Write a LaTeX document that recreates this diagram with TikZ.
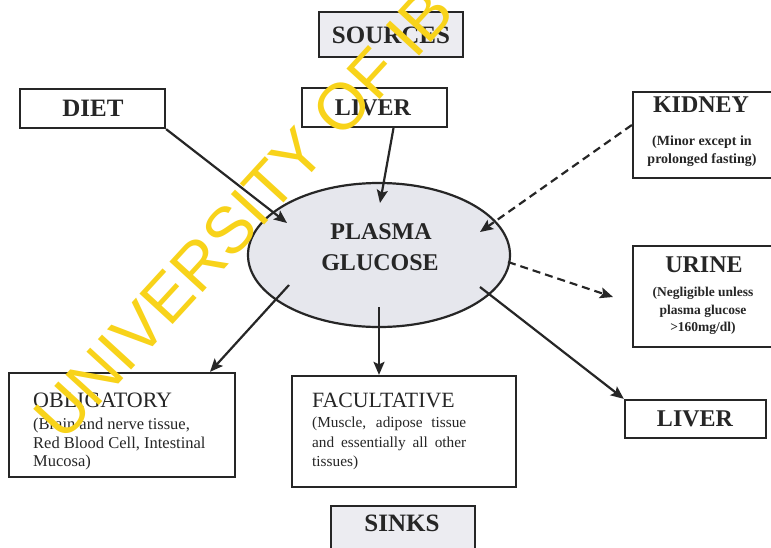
\documentclass[tikz,border=0pt]{standalone}
\usepackage{fontspec}
\setmainfont{Liberation Serif}
\newfontfamily\wmfont{Liberation Sans}
\usetikzlibrary{arrows.meta,shapes.geometric}
\definecolor{ink}{HTML}{262626}
\definecolor{wm}{HTML}{F8D31A}
\definecolor{blobfill}{HTML}{E6E7ED}
\definecolor{headfill}{HTML}{ECECF1}
\begin{document}
\begin{tikzpicture}[x=1pt,y=-1pt,
  box/.style={draw=ink, line width=2.3pt, rectangle, inner sep=0pt},
  lbl/.style={text=ink, inner sep=0pt},
  head/.style={lbl, font=\bfseries\fontsize{25}{25}\selectfont},
  arr/.style={draw=ink, line width=2.2pt, -{Stealth[length=13pt,width=11pt,inset=2.5pt]}},
  darr/.style={arr, dash pattern=on 8pt off 5pt},
]
\useasboundingbox (0,0) rectangle (771,547);
\clip (0,0) rectangle (771,547);
\fill[white] (0,0) rectangle (771,547);

% boxes
\node[box, fill=headfill, minimum width=144pt, minimum height=45pt] (sources) at (391,34.5) {};
\node[box, minimum width=145pt, minimum height=39pt] (diet) at (92.5,108.5) {};
\node[box, minimum width=145pt, minimum height=39pt] (liverA) at (374.5,107.5) {};
\node[box, minimum width=143pt, minimum height=86pt] (kidney) at (704.5,135) {};
\node[box, minimum width=143pt, minimum height=101pt] (urine) at (704.5,296.5) {};
\node[box, minimum width=141pt, minimum height=38pt] (liverB) at (695.5,419) {};
\node[box, minimum width=226pt, minimum height=104pt] (oblig) at (122,425) {};
\node[box, minimum width=224pt, minimum height=111pt] (facult) at (404,431.5) {};
\node[box, fill=headfill, minimum width=144pt, minimum height=54pt] (sinks) at (403,533) {};
\node[draw=ink, line width=2.2pt, fill=blobfill, ellipse, minimum width=262pt, minimum height=144pt, inner sep=0pt] (plasma) at (379,255) {};

% texts
\node[head] (tsources) at (391,35) {SOURCES};
\node[head] (tdiet) at (93,108) {DIET};
\node[head, font=\bfseries\fontsize{24}{24}\selectfont] (tliverA) at (373,108) {LIVER};
\node[head, font=\bfseries\fontsize{24}{24}\selectfont] (tkidney) at (701,105) {KIDNEY};
\node[lbl, align=center, font=\bfseries\fontsize{14}{18}\selectfont] (skidney) at (702,151) {(Minor except in\\prolonged fasting)};
\node[head, font=\bfseries\fontsize{24}{24}\selectfont] (turine) at (704,265) {URINE};
\node[lbl, align=center, font=\bfseries\fontsize{13.5}{17.5}\selectfont] (surine) at (703,311) {(Negligible unless\\plasma glucose\\>160mg/dl)};
\node[head, font=\bfseries\fontsize{24}{24}\selectfont] (tplasma) at (381,232) {PLASMA};
\node[head, font=\bfseries\fontsize{24}{24}\selectfont] (tglucose) at (380,263) {GLUCOSE};
\node[head, font=\bfseries\fontsize{24}{24}\selectfont] (tliverB) at (695,419) {LIVER};
\node[lbl, anchor=west, font=\fontsize{22}{22}\selectfont] (toblig) at (33,400) {OBLIGATORY};
\node[lbl, anchor=north west, align=left, font=\fontsize{16.5}{18.5}\selectfont] (soblig) at (33,418) {(Brain and nerve tissue,\\Red Blood Cell, Intestinal\\Mucosa)};
\node[lbl, anchor=west, font=\fontsize{21.8}{22}\selectfont] (tfacult) at (312,400) {FACULTATIVE};
\node[lbl, anchor=north west, align=left, font=\fontsize{15.3}{19.5}\selectfont] (sfacult) at (312,417) {\makebox[154pt][s]{(Muscle, adipose tissue}\\\makebox[154pt][s]{and essentially all other}\\tissues)};
\node[head] (tsinks) at (402,523) {SINKS};

% connector ends inside the ellipse
\coordinate (tDiet) at (287,223);
\coordinate (tLiver) at (380,203);
\coordinate (tKidney) at (480,232);
\coordinate (sUrine) at (508,262);
\coordinate (tUrine) at (613,297);
\coordinate (sOblig) at (289,285);
\coordinate (sFacult) at (379,307);
\coordinate (sLiverB) at (480,287);

\draw[arr] (diet.south east) -- (tDiet);
\draw[arr] ([xshift=19pt]liverA.south) -- (tLiver);
\draw[darr] ([yshift=10pt]kidney.west) -- (tKidney);
\draw[darr] (sUrine) -- (tUrine);
\draw[arr] (sOblig) -- ([xshift=88pt]oblig.north);
\draw[arr] (sFacult) -- ([xshift=-25pt]facult.north);
\draw[arr] (sLiverB) -- (liverB.north west);

% watermark
\node[inner sep=0pt, text=wm, rotate=47.5, font=\wmfont\fontsize{65.5}{66}\selectfont] (mark) at (244,214) {UNIVERSITY OF IB};
\end{tikzpicture}
\end{document}
